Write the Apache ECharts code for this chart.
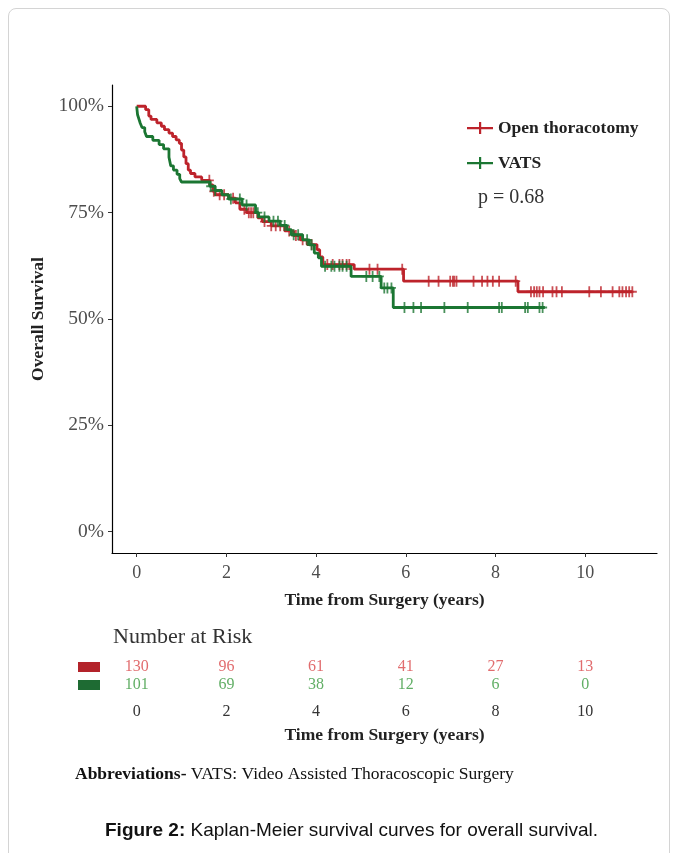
<!DOCTYPE html>
<html>
<head>
<meta charset="utf-8">
<script src="https://cdn.jsdelivr.net/npm/echarts@6/dist/echarts.min.js"></script>
<style>
html,body{margin:0;padding:0;background:#fff;}
#frame{position:absolute;left:8px;top:8px;width:660px;height:870px;border:1px solid #d4d4d4;border-radius:8px;}
#chart{position:absolute;left:0;top:0;width:678px;height:853px;}
</style>
</head>
<body>
<div id="frame"></div>
<div id="chart"></div>
<script>
// ---- data ----
const xTicks = [0, 2, 4, 6, 8, 10];
const yTicks = [0, 25, 50, 75, 100];
const groups = ['Open thoracotomy', 'VATS'];

// Kaplan-Meier step points: time (years) at which survival becomes value (%)
const openTimes = [0, 0.2, 0.27, 0.32, 0.45, 0.55, 0.62, 0.72, 0.8, 0.88, 0.95, 1.0, 1.05, 1.1, 1.15, 1.2, 1.3, 1.45, 1.63, 1.7, 1.75, 2.05, 2.2, 2.3, 2.45, 2.7, 2.8, 3.0, 3.3, 3.5, 3.65, 3.8, 4.02, 4.08, 4.15, 4.85, 5.95, 8.5, 11.05];
const openSurv  = [100, 99.2, 97.7, 96.9, 96.1, 95.3, 94.5, 93.7, 92.9, 92.1, 91.3, 89.7, 88.1, 86.5, 85.0, 84.2, 83.4, 82.6, 81.5, 80.0, 79.2, 78.4, 77.3, 75.8, 75.0, 73.8, 72.9, 71.9, 70.7, 69.6, 68.6, 67.5, 66.3, 64.6, 62.8, 61.7, 58.9, 56.4, 56.4];
const openCensor = [1.62, 1.72, 1.85, 1.95, 2.15, 2.4, 2.5, 2.55, 2.6, 2.85, 3.0, 3.1, 3.2, 3.4, 3.55, 3.7, 3.9, 4.25, 4.37, 4.52, 4.59, 4.68, 4.74, 5.19, 5.37, 5.92, 6.51, 6.73, 6.99, 7.05, 7.08, 7.13, 7.51, 7.70, 7.82, 7.94, 8.08, 8.45, 8.79, 8.86, 8.92, 8.98, 9.06, 9.27, 9.36, 9.48, 10.09, 10.35, 10.61, 10.76, 10.83, 10.91, 10.98, 11.05];

const vatsTimes = [0, 0.02, 0.05, 0.08, 0.12, 0.18, 0.22, 0.36, 0.5, 0.6, 0.72, 0.76, 0.82, 0.9, 0.96, 1.0, 1.63, 1.75, 1.9, 2.05, 2.35, 2.65, 2.72, 2.95, 3.2, 3.35, 3.45, 3.7, 3.85, 3.96, 4.05, 4.12, 4.78, 5.45, 5.72, 9.1];
const vatsSurv  = [100, 98.0, 97.0, 96.0, 95.0, 94.0, 92.9, 92.0, 91.0, 90.0, 88.0, 86.0, 85.0, 84.0, 83.0, 82.2, 81.2, 80.2, 79.2, 78.2, 76.8, 75.0, 74.0, 73.0, 72.0, 71.0, 69.8, 68.6, 67.4, 65.5, 64.4, 62.4, 60.0, 57.3, 52.7, 52.7];
const vatsCensor = [1.65, 1.75, 2.1, 2.3, 2.45, 2.7, 2.85, 3.05, 3.15, 3.3, 3.5, 3.6, 3.8, 3.9, 4.2, 4.34, 4.41, 4.52, 4.59, 4.68, 5.12, 5.26, 5.41, 5.52, 5.59, 5.68, 5.97, 6.17, 6.34, 6.86, 7.38, 8.08, 8.14, 8.66, 8.72, 8.98, 9.05];

// number at risk at xTicks
const riskOpen = [130, 96, 61, 41, 27, 13];
const riskVats = [101, 69, 38, 12, 6, 0];
const pValueText = 'p = 0.68';

// ---- build ----
const RED = '#bd232b', GREEN = '#1b7632';
const SERIF = '"Liberation Serif", "DejaVu Serif", serif';

function zip(a, b) { return a.map((v, i) => [v, b[i]]); }
function survAt(times, surv, t) {
  let s = surv[0];
  for (let i = 0; i < times.length; i++) { if (times[i] <= t) s = surv[i]; }
  return s;
}
const crossPath = 'path://M3.6,0h1.8v11h-1.8z M0,4.6h9v1.8h-9z';
const legendIcon = 'path://M0,5h26v2.2h-26z M12,0h2.2v12h-2.2z';

const chart = echarts.init(document.getElementById('chart'), null, {renderer: 'canvas'});
const option = {
  animation: false,
  backgroundColor: 'transparent',
  textStyle: {fontFamily: SERIF},
  grid: [
    {left: 112, right: 21, top: 85, bottom: 300, containLabel: false},
    {left: 112, right: 21, top: 658, height: 36, containLabel: false}
  ],
  legend: {
    data: groups,
    orient: 'vertical',
    left: 462, top: 114,
    itemWidth: 26, itemHeight: 12, itemGap: 17,
    icon: legendIcon,
    textStyle: {fontFamily: SERIF, fontSize: 17.5, fontWeight: 'bold', color: '#222'}
  },
  xAxis: [
    {
      gridIndex: 0, type: 'value', min: -0.55, max: 11.6,
      axisLine: {show: true, onZero: false, lineStyle: {color: '#000', width: 1.2}},
      axisTick: {show: true, length: 4, customValues: xTicks, lineStyle: {color: '#333'}},
      axisLabel: {customValues: xTicks, fontFamily: SERIF, fontSize: 18, color: '#4d4d4d', margin: 11},
      splitLine: {show: false},
      name: 'Time from Surgery (years)', nameLocation: 'middle', nameGap: 38,
      nameTextStyle: {fontFamily: SERIF, fontSize: 17.5, fontWeight: 'bold', color: '#222'}
    },
    {
      gridIndex: 1, type: 'value', min: -0.55, max: 11.6,
      axisLine: {show: false, onZero: false}, axisTick: {show: false}, splitLine: {show: false},
      axisLabel: {customValues: xTicks, fontFamily: SERIF, fontSize: 16, color: '#333', margin: 10},
      name: 'Time from Surgery (years)', nameLocation: 'middle', nameGap: 32,
      nameTextStyle: {fontFamily: SERIF, fontSize: 17.5, fontWeight: 'bold', color: '#222'}
    }
  ],
  yAxis: [
    {
      gridIndex: 0, type: 'value', min: -5, max: 105,
      axisLine: {show: true, onZero: false, lineStyle: {color: '#000', width: 1.2}},
      axisTick: {show: true, length: 4, customValues: yTicks, lineStyle: {color: '#333'}},
      axisLabel: {customValues: yTicks, formatter: v => v + '%', fontFamily: SERIF, fontSize: 19.5, color: '#4d4d4d', margin: 8},
      splitLine: {show: false},
      name: 'Overall Survival', nameLocation: 'middle', nameGap: 58, nameRotate: 90,
      nameTextStyle: {fontFamily: SERIF, fontSize: 17.5, fontWeight: 'bold', color: '#222'}
    },
    {
      gridIndex: 1, type: 'category', data: ['VATS', 'Open thoracotomy'], inverse: false,
      axisLine: {show: false}, axisTick: {show: false}, splitLine: {show: false},
      axisLabel: {
        margin: 12,
        formatter: v => v === 'VATS' ? '{g|}' : '{r|}',
        rich: {
          r: {width: 22, height: 10, backgroundColor: '#b3232a'},
          g: {width: 22, height: 10, backgroundColor: '#1e6b33'}
        }
      }
    }
  ],
  graphic: [
    {type: 'text', left: 113, top: 626, style: {text: 'Number at Risk', font: '22px ' + SERIF, fill: '#333'}},
    {type: 'text', left: 478, top: 188, style: {text: pValueText, font: '20px ' + SERIF, fill: '#333'}},
    {type: 'text', left: 75, top: 765, style: {
      text: '{b|Abbreviations-} VATS: Video Assisted Thoracoscopic Surgery',
      font: '17.5px ' + SERIF, fill: '#111',
      rich: {b: {fontFamily: SERIF, fontSize: 17.5, fontWeight: 'bold', fill: '#111'}}
    }},
    {type: 'text', left: 105, top: 821, style: {
      text: '{b|Figure 2:} Kaplan-Meier survival curves for overall survival.',
      font: '19px "Liberation Sans", Arial, sans-serif', fill: '#111',
      rich: {b: {fontFamily: '"Liberation Sans", Arial, sans-serif', fontSize: 19, fontWeight: 'bold', fill: '#111'}}
    }}
  ],
  series: [
    {
      name: groups[0], type: 'line', step: 'end', xAxisIndex: 0, yAxisIndex: 0,
      data: zip(openTimes, openSurv), showSymbol: false, symbol: 'none',
      itemStyle: {color: RED}, lineStyle: {color: RED, width: 2.8}, z: 3
    },
    {
      name: groups[1], type: 'line', step: 'end', xAxisIndex: 0, yAxisIndex: 0,
      data: zip(vatsTimes, vatsSurv), showSymbol: false, symbol: 'none',
      itemStyle: {color: GREEN}, lineStyle: {color: GREEN, width: 2.8}, z: 4
    },
    {
      name: 'open-censor', type: 'scatter', xAxisIndex: 0, yAxisIndex: 0,
      data: openCensor.map(t => [t, survAt(openTimes, openSurv, t)]),
      symbol: crossPath, symbolSize: [9, 11], itemStyle: {color: RED, opacity: 0.8}, z: 3
    },
    {
      name: 'vats-censor', type: 'scatter', xAxisIndex: 0, yAxisIndex: 0,
      data: vatsCensor.map(t => [t, survAt(vatsTimes, vatsSurv, t)]),
      symbol: crossPath, symbolSize: [9, 11], itemStyle: {color: GREEN, opacity: 0.8}, z: 4
    },
    {
      name: 'risk-open', type: 'scatter', xAxisIndex: 1, yAxisIndex: 1,
      data: xTicks.map((t, i) => [t, 'Open thoracotomy', riskOpen[i]]),
      symbolSize: 0,
      label: {show: true, position: 'inside', formatter: p => String(p.value[2]), fontFamily: SERIF, fontSize: 16, color: '#d9474a'}
    },
    {
      name: 'risk-vats', type: 'scatter', xAxisIndex: 1, yAxisIndex: 1,
      data: xTicks.map((t, i) => [t, 'VATS', riskVats[i]]),
      symbolSize: 0,
      label: {show: true, position: 'inside', formatter: p => String(p.value[2]), fontFamily: SERIF, fontSize: 16, color: '#3a9a3e'}
    }
  ]
};
chart.setOption(option);
</script>
</body>
</html>
